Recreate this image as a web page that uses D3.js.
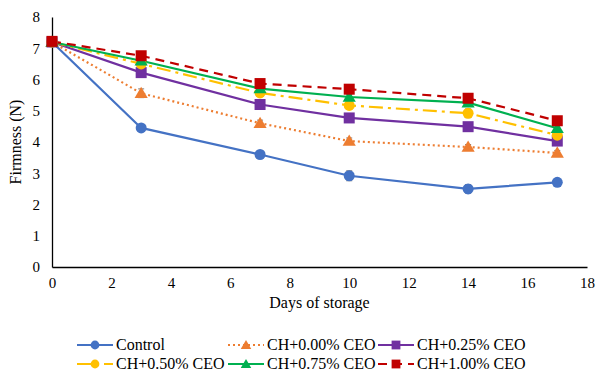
<!DOCTYPE html>
<html><head><meta charset="utf-8">
<script src="https://cdn.jsdelivr.net/npm/d3@7"></script>
<style>body{margin:0;background:#fff}</style>
</head><body>
<svg id="c" width="597" height="377" font-family="Liberation Serif"></svg>
<script>
const days = [0, 3, 7, 10, 14, 17];
const seriesNames = ["Control", "CH+0.00% CEO", "CH+0.25% CEO", "CH+0.50% CEO", "CH+0.75% CEO", "CH+1.00% CEO"];
const control = [7.2, 4.45, 3.6, 2.92, 2.5, 2.71];
const ch000 = [7.2, 5.56, 4.6, 4.03, 3.84, 3.65];
const ch025 = [7.2, 6.22, 5.2, 4.77, 4.49, 4.03];
const ch050 = [7.2, 6.5, 5.57, 5.17, 4.92, 4.22];
const ch075 = [7.2, 6.6, 5.71, 5.44, 5.26, 4.44];
const ch100 = [7.22, 6.76, 5.87, 5.69, 5.4, 4.68];
const errControl = [0.08, 0.08, 0.12, 0.16, 0.14, 0.08];
const err000 = [0.06, 0.14, 0.1, 0.1, 0.08, 0.08];
const err025 = [0.06, 0.15, 0.1, 0.08, 0.06, 0.08];
const err050 = [0.06, 0.1, 0.1, 0.08, 0.14, 0.08];
const err075 = [0.06, 0.08, 0.08, 0.08, 0.08, 0.08];
const err100 = [0.06, 0.06, 0.06, 0.06, 0.06, 0.06];
const xTicks = [0, 2, 4, 6, 8, 10, 12, 14, 16, 18];
const yTicks = [0, 1, 2, 3, 4, 5, 6, 7, 8];

const FONT = "Liberation Serif";
const styles = [
  {color: "#4472C4", dash: null, shape: "circle"},
  {color: "#ED7D31", dash: "2,3", shape: "triangle"},
  {color: "#7030A0", dash: null, shape: "square"},
  {color: "#FFC000", dash: "14,5,3,5", shape: "circle"},
  {color: "#00B050", dash: null, shape: "triangle"},
  {color: "#C00000", dash: "9,6", shape: "square"}
];
const values = [control, ch000, ch025, ch050, ch075, ch100];
const errs = [errControl, err000, err025, err050, err075, err100];

const svg = d3.select("#c");
const x = d3.scaleLinear().domain([0, 18]).range([52, 587]);
const y = d3.scaleLinear().domain([0, 8]).range([267, 17]);

// axes
const xAxis = svg.append("g").attr("transform", "translate(0,267)")
  .call(d3.axisBottom(x).tickValues(xTicks).tickSize(0).tickPadding(10));
xAxis.attr("font-family", FONT).attr("font-size", 15);
xAxis.select(".domain").attr("stroke", "#000").attr("stroke-width", 1.3);
xAxis.selectAll("text").attr("font-family", FONT).attr("font-size", 15).attr("fill", "#000");
const yAxis = svg.append("g").attr("transform", "translate(52,0)")
  .call(d3.axisLeft(y).tickValues(yTicks).tickSize(0).tickPadding(12));
yAxis.attr("font-family", FONT).attr("font-size", 15);
yAxis.select(".domain").attr("stroke", "#000").attr("stroke-width", 1.3);
yAxis.selectAll("text").attr("font-family", FONT).attr("font-size", 15).attr("fill", "#000");

svg.append("text").attr("x", x(9)).attr("y", 308).attr("text-anchor", "middle")
  .attr("font-family", FONT).attr("font-size", 16).text("Days of storage");
svg.append("text").attr("transform", "translate(21," + y(4) + ") rotate(-90)")
  .attr("text-anchor", "middle").attr("font-family", FONT).attr("font-size", 16).text("Firmness (N)");

function marker(g, shape, cx, cy, color, s) {
  if (shape === "circle") g.append("circle").attr("cx", cx).attr("cy", cy).attr("r", s * 0.55).attr("fill", color);
  else if (shape === "square") g.append("rect").attr("x", cx - s * 0.55).attr("y", cy - s * 0.55).attr("width", s * 1.1).attr("height", s * 1.1).attr("fill", color);
  else g.append("path").attr("d", d3.symbol().type(d3.symbolTriangle).size(s * s * 0.75)()).attr("transform", "translate(" + cx + "," + (cy + 1) + ")").attr("fill", color);
}

const line = d3.line().x((d, i) => x(days[i])).y(d => y(d));
values.forEach((vals, k) => {
  const st = styles[k];
  svg.append("path").datum(vals).attr("d", line).attr("fill", "none")
    .attr("stroke", st.color).attr("stroke-width", 2.2)
    .attr("stroke-dasharray", st.dash);
});
values.forEach((vals, k) => {
  const st = styles[k];
  const g = svg.append("g");
  vals.forEach((v, i) => {
    const e = errs[k][i];
    const cx = x(days[i]);
    g.append("line").attr("x1", cx).attr("x2", cx).attr("y1", y(v - e)).attr("y2", y(v + e)).attr("stroke", "#7f7f7f").attr("stroke-width", 1);
    [v - e, v + e].forEach(t => g.append("line").attr("x1", cx - 3).attr("x2", cx + 3).attr("y1", y(t)).attr("y2", y(t)).attr("stroke", "#7f7f7f").attr("stroke-width", 1));
    marker(g, st.shape, cx, y(v), st.color, 10);
  });
});

// legend
const legendPos = [[77, 345], [228, 345], [378, 345], [77, 364], [228, 364], [378, 364]];
seriesNames.forEach((name, k) => {
  const st = styles[k];
  const [lx, ly] = legendPos[k];
  const g = svg.append("g");
  g.append("line").attr("x1", lx).attr("x2", lx + 36).attr("y1", ly).attr("y2", ly)
    .attr("stroke", st.color).attr("stroke-width", 2.2).attr("stroke-dasharray", st.dash);
  marker(g, st.shape, lx + 18, ly, st.color, 8);
  g.append("text").attr("x", lx + 39).attr("y", ly + 5).attr("font-family", FONT).attr("font-size", 16).text(name);
});
</script>
</body></html>
